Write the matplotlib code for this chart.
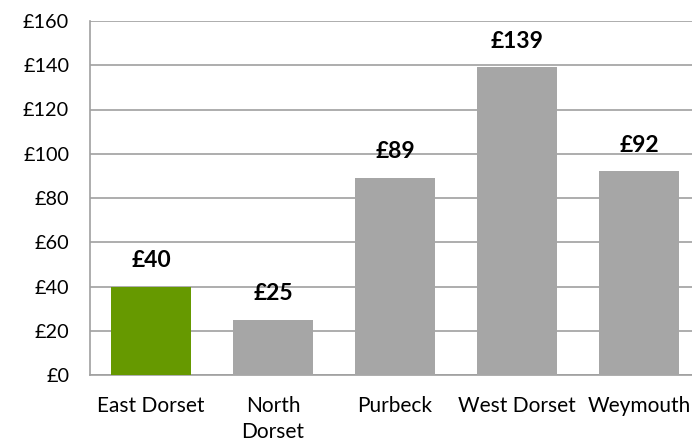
import matplotlib
matplotlib.use("Agg")
import matplotlib.pyplot as plt

categories = ["East Dorset", "North\nDorset", "Purbeck", "West Dorset", "Weymouth"]
values = [40, 25, 89, 139, 92]
labels = ["£40", "£25", "£89", "£139", "£92"]
colors = ["#669900", "#A6A6A6", "#A6A6A6", "#A6A6A6", "#A6A6A6"]
yticks = [0, 20, 40, 60, 80, 100, 120, 140, 160]

plt.rcParams['font.family'] = ['Lato', 'DejaVu Sans']

fig = plt.figure(figsize=(6.92, 4.42), dpi=100)
W, H = 692, 442
ax = fig.add_axes([90 / W, (H - 375) / H, 610 / W, 354 / H])

x = range(len(categories))
ax.bar(x, values, width=0.65, color=colors, zorder=3)
for xi, v, lab in zip(x, values, labels):
    ax.annotate(lab, (xi, v), xytext=(0, 19), textcoords="offset points",
                ha="center", va="center", fontsize=16.5, fontweight="bold", color="black")

ax.set_xlim(-0.5, len(categories) - 0.5)
ax.set_ylim(0, 160)
ax.set_yticks(yticks)
ax.set_yticklabels([f"£{t}" for t in yticks])
ax.set_xticks(list(x))
ax.set_xticklabels(categories, linespacing=1.38)
ax.tick_params(axis="both", length=0, colors="black")
ax.tick_params(axis="x", pad=15, labelsize=15)
ax.tick_params(axis="y", pad=15, labelsize=14.3)
ax.grid(axis="y", color="#A0A0A0", linewidth=1.2, zorder=0)
for s in ["top", "right"]:
    ax.spines[s].set_visible(False)
for s in ["left", "bottom"]:
    ax.spines[s].set_color("#A0A0A0")
    ax.spines[s].set_linewidth(1.2)

fig.savefig("out.png", dpi=100)
